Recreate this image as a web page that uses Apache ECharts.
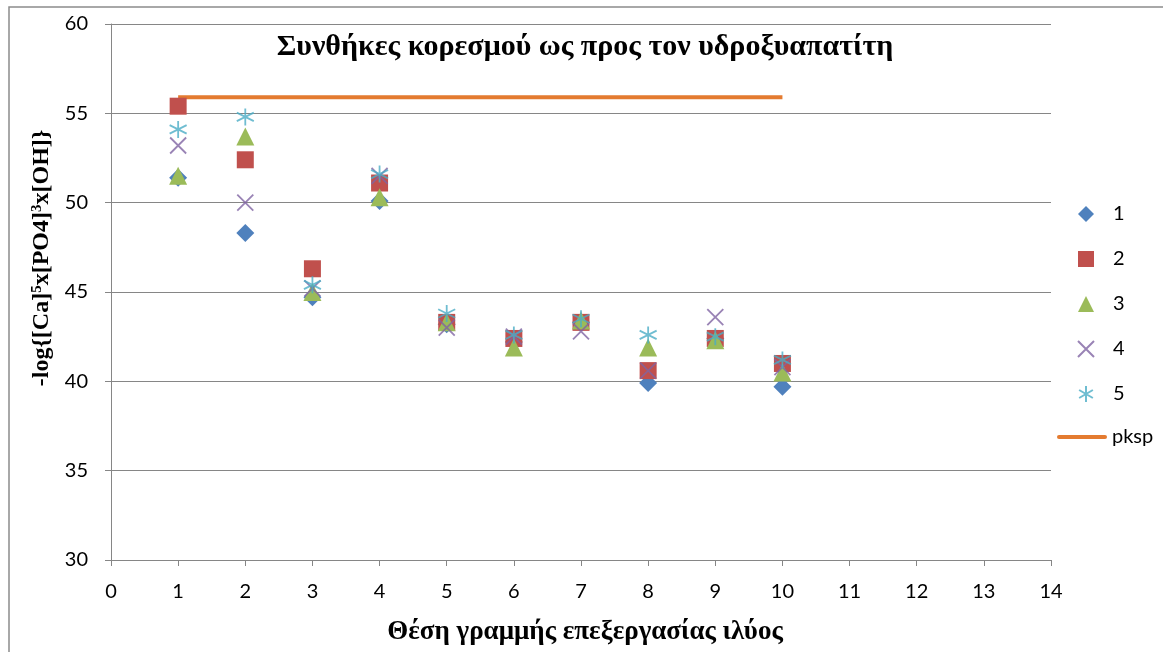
<!DOCTYPE html>
<html>
<head>
<meta charset="utf-8">
<script src="https://cdn.jsdelivr.net/npm/echarts@6/dist/echarts.min.js"></script>
<style>
  html, body { margin: 0; padding: 0; background: #fff; }
  #chart { width: 1163px; height: 652px; }
</style>
</head>
<body>
<div id="chart"></div>
<script>
// Sampling positions along the sludge treatment line
const positions = [1, 2, 3, 4, 5, 6, 7, 8, 9, 10];

// -log{[Ca]^5 x [PO4]^3 x [OH]} for the five sampling runs
const run1 = [51.4, 48.3, 44.7, 50.1, 43.2, 42.2, 43.3, 39.9, 42.4, 39.7];
const run2 = [55.4, 52.4, 46.3, 51.1, 43.3, 42.4, 43.3, 40.6, 42.4, 41.0];
const run3 = [51.5, 53.7, 45.0, 50.3, 43.3, 41.9, 43.4, 41.9, 42.3, 40.5];
const run4 = [53.2, 50.0, 45.2, 51.5, 43.0, 42.5, 42.8, 40.6, 43.6, 40.8];
const run5 = [54.1, 54.8, 45.4, 51.6, 43.8, 42.6, 43.5, 42.6, 42.5, 41.2];

// Solubility product of hydroxyapatite (pKsp)
const pksp = [55.9, 55.9, 55.9, 55.9, 55.9, 55.9, 55.9, 55.9, 55.9, 55.9];

const runNames = ['1', '2', '3', '4', '5'];
const lineName = 'pksp';
const yTicks = { min: 30, max: 60, step: 5 };
const xTicks = { min: 0, max: 14, step: 1 };

const pairs = (vals) => positions.map((x, i) => [x, vals[i]]);

const AXIS_GREY = '#868686';
const PKSP_COLOR = '#E47B30';
const LABEL_FONT = 'Lato, "Liberation Sans", sans-serif';
const SERIF = '"Liberation Serif", "DejaVu Serif", serif';
const LABEL_SIZE = 20;

const crossPath = 'path://M0,0L10,10M0,10L10,0';
const starPath = 'path://M5,0L5,10M0.7,2.5L9.3,7.5M0.7,7.5L9.3,2.5';
const barIcon = 'path://M2,0L48,0A2,2,0,0,1,48,4L2,4A2,2,0,0,1,2,0Z';

function scatter(name, vals, symbol, size, color, stroked) {
  return {
    name: name,
    type: 'scatter',
    z: 3,
    data: pairs(vals),
    symbol: symbol,
    symbolSize: size,
    itemStyle: stroked
      ? { color: 'transparent', borderColor: color, borderWidth: 1.8 }
      : { color: color, opacity: 1 },
    emphasis: { disabled: true }
  };
}

const chart = echarts.init(document.getElementById('chart'), null, { renderer: 'canvas' });

chart.setOption({
  animation: false,
  backgroundColor: '#fff',
  grid: { left: 111, top: 24, right: 112, bottom: 92, containLabel: false },
  xAxis: {
    type: 'value',
    min: xTicks.min,
    max: xTicks.max,
    interval: xTicks.step,
    axisLine: { show: true, lineStyle: { color: AXIS_GREY, width: 1 } },
    axisTick: { show: true, length: 6, lineStyle: { color: AXIS_GREY } },
    axisLabel: { margin: 22, color: '#000', fontSize: LABEL_SIZE, fontFamily: LABEL_FONT },
    splitLine: { show: false }
  },
  yAxis: {
    type: 'value',
    min: yTicks.min,
    max: yTicks.max,
    interval: yTicks.step,
    axisLine: { show: true, lineStyle: { color: AXIS_GREY, width: 1 } },
    axisTick: { show: true, length: 6, lineStyle: { color: AXIS_GREY } },
    axisLabel: { margin: 23, color: '#000', fontSize: LABEL_SIZE, fontFamily: LABEL_FONT },
    splitLine: { show: true, lineStyle: { color: AXIS_GREY, width: 1 } }
  },
  legend: [
    {
      orient: 'vertical',
      left: 1072,
      top: 199,
      itemWidth: 16,
      itemHeight: 16,
      itemGap: 25,
      data: runNames,
      formatter: '{n|{name}}',
      textStyle: {
        color: '#000',
        fontSize: LABEL_SIZE,
        fontFamily: LABEL_FONT,
        rich: { n: { fontSize: LABEL_SIZE, fontFamily: LABEL_FONT, color: '#000', padding: [0, 0, 0, 14] } }
      }
    },
    {
      orient: 'vertical',
      left: 1052,
      top: 422,
      itemWidth: 50,
      itemHeight: 4,
      data: [{ name: lineName, icon: barIcon, itemStyle: { color: PKSP_COLOR } }],
      textStyle: { color: '#000', fontSize: LABEL_SIZE, fontFamily: LABEL_FONT }
    }
  ],
  graphic: [
    {
      type: 'rect',
      silent: true,
      shape: { x: 9, y: 7, width: 1300, height: 800 },
      style: { fill: 'none', stroke: '#8c8c8c', lineWidth: 1.5 }
    },
    {
      type: 'text',
      silent: true,
      x: 585,
      y: 47,
      style: {
        text: 'Συνθήκες κορεσμού ως προς τον υδροξυαπατίτη',
        fill: '#000',
        font: 'bold 30px ' + SERIF,
        textAlign: 'center',
        textVerticalAlign: 'middle'
      }
    },
    {
      type: 'text',
      silent: true,
      x: 585,
      y: 632,
      style: {
        text: 'Θέση γραμμής επεξεργασίας ιλύος',
        fill: '#000',
        font: 'bold 27px ' + SERIF,
        textAlign: 'center',
        textVerticalAlign: 'middle'
      }
    },
    {
      // rotated y-axis title with superscript exponents
      type: 'text',
      silent: true,
      x: 42,
      y: 258,
      rotation: Math.PI / 2,
      style: {
        text: '-log{[Ca]{sup|5}x[PO4]{sup|3}x[OH]}',
        fill: '#000',
        font: 'bold 24px ' + SERIF,
        align: 'center',
        verticalAlign: 'middle',
        rich: {
          sup: {
            font: 'bold 15px ' + SERIF,
            fill: '#000',
            verticalAlign: 'top',
            padding: [0, 0, 9, 0]
          }
        }
      }
    }
  ],
  series: [
    {
      name: lineName,
      type: 'line',
      z: 2,
      data: pairs(pksp),
      symbol: 'none',
      showSymbol: false,
      color: PKSP_COLOR,
      lineStyle: { color: PKSP_COLOR, width: 4 },
      emphasis: { disabled: true }
    },
    scatter('1', run1, 'diamond', 18, '#4F81BD', false),
    scatter('2', run2, 'rect', 17, '#C0504D', false),
    scatter('3', run3, 'triangle', 18, '#9BBB59', false),
    scatter('4', run4, crossPath, 16, '#8064A2', true),
    scatter('5', run5, starPath, 17, '#4BACC6', true)
  ]
});
</script>
</body>
</html>
